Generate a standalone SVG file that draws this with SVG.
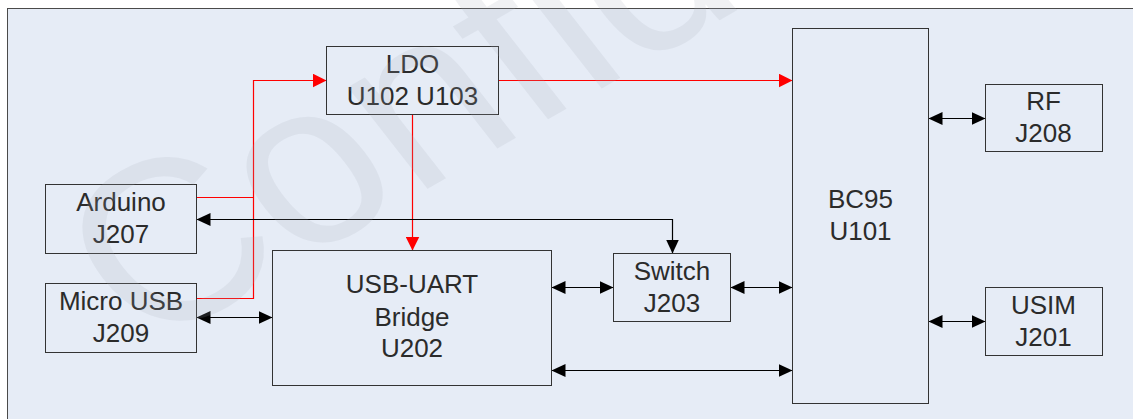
<svg xmlns="http://www.w3.org/2000/svg" width="1133" height="419" viewBox="0 0 1133 419">
<style>
.box{fill:#e6ecf6;stroke:#333;stroke-width:1}
.lbl{font-family:"Liberation Sans",Arial,sans-serif;font-size:26px;fill:#2b2b2b;text-anchor:middle}
.red{fill:none;stroke:#ff0000;stroke-width:1.2}
.blk{fill:none;stroke:#000;stroke-width:1.2}
.wm{font-family:"Liberation Sans",Arial,sans-serif;font-size:242px;fill:#a8acb6;fill-opacity:0.17}
</style>
<defs>
<marker id="ar" markerUnits="userSpaceOnUse" markerWidth="14" markerHeight="14" refX="14" refY="7" orient="auto"><path d="M0,0 L14,7 L0,14 z" fill="#ff0000"/></marker>
<marker id="ab" markerUnits="userSpaceOnUse" markerWidth="14" markerHeight="14" refX="14" refY="7" orient="auto-start-reverse"><path d="M0,0.5 L14,7 L0,13.5 z" fill="#000"/></marker>
</defs>
<rect x="0" y="0" width="1133" height="419" fill="#ffffff"/>
<rect x="7.5" y="8.5" width="1140" height="420" fill="#e6ecf6" stroke="#4a4a4a" stroke-width="1"/>
<g id="connectors">
<path class="red" d="M196.5,298.5 H253.5 V80.5 H326.5" marker-end="url(#ar)"/>
<path class="red" d="M196.5,197.5 H253.5"/>
<path class="red" d="M498.5,80.5 H792.5" marker-end="url(#ar)"/>
<path class="red" d="M412.5,114.5 V250.5" marker-end="url(#ar)"/>
<path class="blk" d="M196.5,219.5 H672.5 V253.5" marker-start="url(#ab)" marker-end="url(#ab)"/>
<path class="blk" d="M196.5,317.5 H272.5" marker-start="url(#ab)" marker-end="url(#ab)"/>
<path class="blk" d="M551.5,287.5 H613.5" marker-start="url(#ab)" marker-end="url(#ab)"/>
<path class="blk" d="M730.5,287.5 H792.5" marker-start="url(#ab)" marker-end="url(#ab)"/>
<path class="blk" d="M551.5,370.5 H792.5" marker-start="url(#ab)" marker-end="url(#ab)"/>
<path class="blk" d="M928.5,118.5 H985.5" marker-start="url(#ab)" marker-end="url(#ab)"/>
<path class="blk" d="M928.5,321.5 H985.5" marker-start="url(#ab)" marker-end="url(#ab)"/>
</g>
<g id="ldo"><rect class="box" x="326.5" y="46.5" width="172" height="68"/><text class="lbl" x="412.5" y="72.5">LDO</text><text class="lbl" x="412.5" y="105">U102 U103</text></g>
<g id="bc95"><rect class="box" x="792.5" y="28.5" width="136" height="375"/><text class="lbl" x="860.5" y="208">BC95</text><text class="lbl" x="860.5" y="240">U101</text></g>
<g id="rf"><rect class="box" x="985.5" y="84.5" width="117" height="67"/><text class="lbl" x="1043.5" y="110">RF</text><text class="lbl" x="1043.5" y="141.5">J208</text></g>
<g id="usim"><rect class="box" x="985.5" y="287.5" width="117" height="68"/><text class="lbl" x="1043.5" y="314">USIM</text><text class="lbl" x="1043.5" y="346">J201</text></g>
<g id="arduino"><rect class="box" x="45.5" y="184.5" width="151" height="69"/><text class="lbl" x="121" y="211">Arduino</text><text class="lbl" x="121" y="242.5">J207</text></g>
<g id="microusb"><rect class="box" x="45.5" y="283.5" width="151" height="69"/><text class="lbl" x="121" y="309.5">Micro USB</text><text class="lbl" x="121" y="341.5">J209</text></g>
<g id="usbuart"><rect class="box" x="272.5" y="250.5" width="279" height="135"/><text class="lbl" x="412" y="293">USB-UART</text><text class="lbl" x="412" y="325.5">Bridge</text><text class="lbl" x="412" y="357">U202</text></g>
<g id="switch"><rect class="box" x="613.5" y="253.5" width="117" height="68"/><text class="lbl" x="672" y="280">Switch</text><text class="lbl" x="672" y="311.5">J203</text></g>
<text class="wm" transform="translate(145,352) rotate(-30) skewX(8)">Confidential</text>
</svg>
